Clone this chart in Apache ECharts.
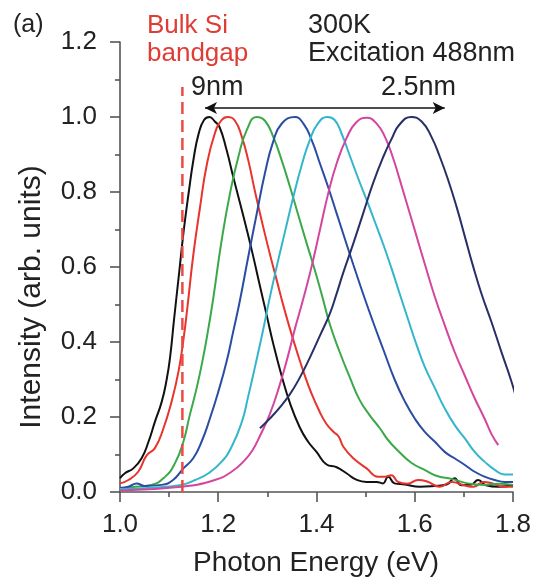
<!DOCTYPE html>
<html>
<head>
<meta charset="utf-8">
<script src="https://cdn.jsdelivr.net/npm/echarts@6/dist/echarts.min.js"></script>
<style>
html,body{margin:0;padding:0;background:#fff;}
#chart{width:535px;height:582px;}
</style>
</head>
<body>
<div id="chart"></div>
<script>
// ---- data (Photon energy eV, normalized intensity) ----
const black9nm = [[1.000,0.037],[1.010,0.050],[1.027,0.063],[1.044,0.090],[1.058,0.134],[1.071,0.187],[1.085,0.241],[1.095,0.300],[1.102,0.360],[1.110,0.460],[1.120,0.580],[1.130,0.700],[1.140,0.800],[1.150,0.890],[1.160,0.955],[1.171,0.992],[1.182,1.000],[1.193,0.988],[1.203,0.972],[1.217,0.912],[1.230,0.843],[1.244,0.772],[1.258,0.700],[1.270,0.635],[1.283,0.560],[1.298,0.475],[1.312,0.395],[1.329,0.310],[1.346,0.237],[1.366,0.172],[1.383,0.134],[1.400,0.107],[1.420,0.074],[1.441,0.066],[1.461,0.050],[1.481,0.033],[1.502,0.027],[1.522,0.027],[1.535,0.023],[1.546,0.041],[1.559,0.023],[1.580,0.020],[1.610,0.014],[1.640,0.016],[1.665,0.020],[1.681,0.037],[1.695,0.018],[1.715,0.020],[1.729,0.032],[1.745,0.018],[1.770,0.014],[1.800,0.018]];
const redCurve = [[1.000,0.023],[1.017,0.032],[1.037,0.054],[1.054,0.097],[1.071,0.117],[1.088,0.168],[1.105,0.241],[1.119,0.321],[1.129,0.405],[1.137,0.490],[1.149,0.630],[1.163,0.760],[1.176,0.868],[1.193,0.956],[1.207,0.992],[1.219,1.000],[1.234,0.990],[1.248,0.947],[1.261,0.885],[1.275,0.800],[1.290,0.715],[1.305,0.635],[1.319,0.565],[1.333,0.495],[1.346,0.435],[1.360,0.375],[1.375,0.315],[1.390,0.262],[1.405,0.218],[1.420,0.182],[1.435,0.160],[1.445,0.148],[1.455,0.120],[1.475,0.090],[1.502,0.063],[1.525,0.041],[1.539,0.041],[1.552,0.045],[1.566,0.027],[1.585,0.022],[1.607,0.032],[1.625,0.028],[1.651,0.014],[1.675,0.027],[1.700,0.018],[1.720,0.014],[1.740,0.027],[1.760,0.022],[1.780,0.014],[1.800,0.014]];
const greenCurve = [[1.000,0.008],[1.031,0.014],[1.064,0.019],[1.092,0.041],[1.112,0.077],[1.129,0.134],[1.142,0.205],[1.156,0.277],[1.169,0.357],[1.180,0.437],[1.190,0.518],[1.207,0.672],[1.224,0.797],[1.241,0.894],[1.258,0.965],[1.278,1.000],[1.295,0.990],[1.312,0.947],[1.329,0.885],[1.346,0.814],[1.363,0.738],[1.380,0.663],[1.397,0.590],[1.412,0.520],[1.427,0.448],[1.447,0.374],[1.468,0.305],[1.488,0.245],[1.508,0.205],[1.529,0.170],[1.546,0.138],[1.566,0.110],[1.593,0.078],[1.620,0.059],[1.647,0.042],[1.675,0.035],[1.708,0.023],[1.742,0.019],[1.770,0.022],[1.800,0.019]];
const blueCurve = [[1.000,0.011],[1.017,0.014],[1.034,0.023],[1.050,0.016],[1.085,0.019],[1.108,0.032],[1.129,0.063],[1.149,0.090],[1.166,0.134],[1.183,0.196],[1.200,0.267],[1.217,0.348],[1.230,0.425],[1.244,0.510],[1.260,0.620],[1.278,0.740],[1.295,0.850],[1.312,0.935],[1.329,0.982],[1.356,1.000],[1.373,0.983],[1.390,0.939],[1.407,0.876],[1.424,0.812],[1.441,0.743],[1.458,0.674],[1.475,0.606],[1.495,0.528],[1.515,0.454],[1.536,0.380],[1.559,0.300],[1.580,0.241],[1.600,0.196],[1.620,0.161],[1.641,0.134],[1.661,0.107],[1.681,0.090],[1.702,0.072],[1.722,0.054],[1.742,0.041],[1.763,0.032],[1.783,0.027],[1.800,0.027]];
const cyanCurve = [[1.000,0.008],[1.058,0.011],[1.125,0.019],[1.153,0.032],[1.180,0.050],[1.207,0.081],[1.227,0.120],[1.248,0.187],[1.261,0.255],[1.275,0.335],[1.291,0.430],[1.304,0.513],[1.319,0.601],[1.336,0.695],[1.353,0.788],[1.370,0.872],[1.386,0.937],[1.403,0.983],[1.422,1.000],[1.437,0.992],[1.451,0.956],[1.468,0.896],[1.485,0.836],[1.502,0.779],[1.519,0.720],[1.536,0.660],[1.553,0.595],[1.569,0.530],[1.586,0.462],[1.603,0.395],[1.620,0.335],[1.641,0.277],[1.661,0.223],[1.681,0.179],[1.702,0.143],[1.722,0.107],[1.742,0.081],[1.763,0.059],[1.783,0.047],[1.800,0.047]];
const magentaCurve = [[1.000,0.004],[1.125,0.014],[1.193,0.032],[1.227,0.054],[1.254,0.085],[1.270,0.112],[1.285,0.150],[1.305,0.208],[1.325,0.285],[1.342,0.363],[1.356,0.435],[1.372,0.510],[1.390,0.601],[1.407,0.699],[1.424,0.797],[1.441,0.876],[1.461,0.943],[1.481,0.986],[1.502,0.998],[1.522,0.983],[1.540,0.945],[1.556,0.890],[1.569,0.835],[1.586,0.760],[1.603,0.685],[1.620,0.610],[1.641,0.520],[1.661,0.445],[1.681,0.374],[1.702,0.310],[1.722,0.250],[1.742,0.196],[1.756,0.155],[1.770,0.125]];
const navy25nm = [[1.285,0.170],[1.305,0.196],[1.325,0.225],[1.346,0.261],[1.366,0.305],[1.386,0.357],[1.407,0.417],[1.427,0.475],[1.440,0.525],[1.454,0.583],[1.475,0.663],[1.495,0.743],[1.515,0.823],[1.536,0.894],[1.553,0.942],[1.569,0.980],[1.593,1.000],[1.614,0.988],[1.634,0.947],[1.651,0.894],[1.668,0.832],[1.685,0.761],[1.702,0.681],[1.719,0.601],[1.736,0.528],[1.756,0.454],[1.776,0.375],[1.797,0.294],[1.806,0.252]];

const bandgapLine = [[1.127,0],[1.127,1.08]];
const sizeArrow = [[1.173,1.024],[1.661,1.024]];

const xTicks = {min:1.0, max:1.8, interval:0.2};
const yTicks = {min:0, max:1.2, interval:0.2};

const curves = [
  {name:'9nm', data:black9nm, color:'#111111'},
  {name:'red', data:redCurve, color:'#e8342c'},
  {name:'green', data:greenCurve, color:'#3ba84a'},
  {name:'blue', data:blueCurve, color:'#2a4ca3'},
  {name:'cyan', data:cyanCurve, color:'#33b6cb'},
  {name:'magenta', data:magentaCurve, color:'#d4459d'},
  {name:'2.5nm', data:navy25nm, color:'#272f66'}
];

const FONT = 'Liberation Sans, Arial, Helvetica, sans-serif';
const chart = echarts.init(document.getElementById('chart'), null, {renderer:'canvas'});

const series = curves.map(c => ({
  type:'line', name:c.name, data:c.data, showSymbol:false, symbol:'none',
  smooth:0.5, clip:false,
  lineStyle:{color:c.color, width:2}, z:3, animation:false
}));
series.push({
  type:'line', name:'bandgap', data:bandgapLine, showSymbol:false, symbol:'none',
  lineStyle:{color:'#ea4a42', width:2.5, type:[12,6]}, z:4, animation:false
});
series.push({
  type:'line', name:'arrow', data:[], animation:false,
  markLine:{
    silent:true, symbol:['arrow','arrow'], symbolSize:[9,12],
    label:{show:false},
    lineStyle:{color:'#111', width:1.5, type:'solid'},
    data:[[{coord:sizeArrow[0]},{coord:sizeArrow[1]}]],
    animation:false
  }
});

const axisCommon = {
  axisLine:{show:true, lineStyle:{color:'#555', width:1.6}},
  axisTick:{show:true, inside:false, length:10, lineStyle:{color:'#555', width:1.6}},
  minorTick:{show:true, splitNumber:2, length:5, lineStyle:{color:'#555', width:1.6}},
  splitLine:{show:false},
  minorSplitLine:{show:false}
};

chart.setOption({
  animation:false,
  backgroundColor:'#fff',
  grid:{left:120, right:22, top:42, bottom:90, containLabel:false},
  xAxis:Object.assign({type:'value', min:xTicks.min, max:xTicks.max, interval:xTicks.interval,
    axisLabel:{fontFamily:FONT, fontSize:26, color:'#222', margin:20, formatter:v=>v.toFixed(1)}}, axisCommon),
  yAxis:Object.assign({type:'value', min:yTicks.min, max:yTicks.max, interval:yTicks.interval,
    axisLabel:{fontFamily:FONT, fontSize:26, color:'#222', margin:23, formatter:v=>v.toFixed(1)}}, axisCommon),
  series:series,
  graphic:[
    {type:'text', x:13, y:25, style:{text:'(a)', font:'25px '+FONT, fill:'#222', textVerticalAlign:'middle'}},
    {type:'text', x:147, y:26, style:{text:'Bulk Si', font:'26px '+FONT, fill:'#e03c36', textVerticalAlign:'middle'}},
    {type:'text', x:147, y:54, style:{text:'bandgap', font:'26px '+FONT, fill:'#e03c36', textVerticalAlign:'middle'}},
    {type:'text', x:308, y:26, style:{text:'300K', font:'27px '+FONT, fill:'#222', textVerticalAlign:'middle'}},
    {type:'text', x:308, y:54, style:{text:'Excitation 488nm', font:'27px '+FONT, fill:'#222', textVerticalAlign:'middle'}},
    {type:'text', x:191, y:88, style:{text:'9nm', font:'27px '+FONT, fill:'#222', textVerticalAlign:'middle'}},
    {type:'text', x:381, y:88, style:{text:'2.5nm', font:'27px '+FONT, fill:'#222', textVerticalAlign:'middle'}},
    {type:'text', x:32, y:297, rotation:Math.PI/2, style:{text:'Intensity (arb. units)', font:'30px '+FONT, fill:'#222', textAlign:'center', textVerticalAlign:'middle'}},
    {type:'text', x:316, y:563, style:{text:'Photon Energy (eV)', font:'28px '+FONT, fill:'#222', textAlign:'center', textVerticalAlign:'middle'}}
  ]
});
</script>
</body>
</html>
